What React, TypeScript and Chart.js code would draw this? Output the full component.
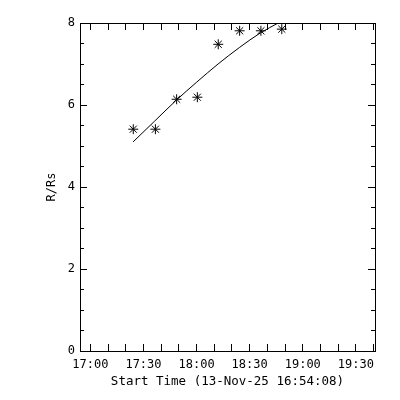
import { useEffect, useRef } from "react";
import { Chart, registerables } from "chart.js";

Chart.register(...registerables);

// ---- data ----
const startTime = "16:54:08";
const xRangeSeconds = 10000;
const xFirstTick = "17:00";
const xTickStepMinutes = 10;
const xMajorLabels = ["17:00", "17:30", "18:00", "18:30", "19:00", "19:30"];
const yMin = 0;
const yMax = 8;
const yMajorStep = 2;
const yMinorStep = 0.5;

// minutes after start time
const obsMinutes = [30.1, 42.6, 54.6, 66.3, 78.1, 90.2, 102.2, 114.0];
const obsRadius = [5.41, 5.41, 6.14, 6.19, 7.48, 7.81, 7.81, 7.85];
const fitMinutes = [30, 42, 54, 66, 78, 90, 102, 112];
const fitRadius = [5.1, 5.6, 6.1, 6.56, 7.0, 7.4, 7.76, 8.0];

const xTitle = "Start Time (13-Nov-25 16:54:08)";
const yTitle = "R/Rs";

// ---- helpers ----
const toSec = (s: string) => {
  const p = s.split(":").map(Number);
  return p[0] * 3600 + p[1] * 60 + (p[2] || 0);
};
const startSec = toSec(startTime);
const xMax = xRangeSeconds / 60;
const firstTickMin = (toSec(xFirstTick) - startSec) / 60;
const xTickValues: number[] = [];
for (let v = firstTickMin; v <= xMax + 1e-9; v += xTickStepMinutes) xTickValues.push(v);
const clockLabel = (v: number) => {
  const t = Math.round(startSec + v * 60);
  const h = Math.floor(t / 3600);
  const m = Math.round((t % 3600) / 60);
  return `${String(h).padStart(2, "0")}:${String(m).padStart(2, "0")}`;
};

const FONT = { family: "DejaVu Sans Mono", size: 12 };

export default function App() {
  const ref = useRef<HTMLCanvasElement | null>(null);
  useEffect(() => {
    if (!ref.current) return;
    Chart.defaults.font.family = FONT.family;
    Chart.defaults.font.size = FONT.size;
    Chart.defaults.color = "#000";

    const setTicks = (scale: any) => {
      scale.ticks = xTickValues.map((v) => ({ value: v }));
    };
    const xCommon = {
      type: "linear" as const,
      min: 0,
      max: xMax,
      afterBuildTicks: setTicks,
      grid: { drawOnChartArea: false, color: "#000", tickLength: -7, lineWidth: 1 },
      border: { display: true, color: "#000", width: 1 },
    };
    const yCommon = {
      type: "linear" as const,
      min: yMin,
      max: yMax,
    };

    const chart = new Chart(ref.current, {
      type: "scatter",
      data: {
        datasets: [
          {
            type: "line",
            data: fitMinutes.map((x, i) => ({ x, y: fitRadius[i] })),
            borderColor: "#000",
            borderWidth: 1,
            pointRadius: 0,
            cubicInterpolationMode: "monotone",
            fill: false,
          } as any,
          {
            type: "scatter",
            data: obsMinutes.map((x, i) => ({ x, y: obsRadius[i] })),
            pointStyle: "star",
            pointRadius: 5,
            borderColor: "#000",
            backgroundColor: "#000",
            borderWidth: 1,
          } as any,
        ],
      },
      options: {
        animation: false,
        responsive: false,
        plugins: { legend: { display: false }, tooltip: { enabled: false } },
        layout: { padding: 0 },
        scales: {
          x: {
            ...xCommon,
            position: "bottom",
            afterFit: (s: any) => { s.height = 49; },
            ticks: {
              autoSkip: false,
              maxRotation: 0,
              padding: 14,
              color: "#000",
              callback: (v: any) => {
                const l = clockLabel(Number(v));
                return xMajorLabels.includes(l) ? l : "";
              },
            },
            title: { display: true, text: xTitle, color: "#000", font: { size: 12.5 }, padding: { top: 0, bottom: 11 } },
          },
          xTop: {
            ...xCommon,
            position: "top",
            afterFit: (s: any) => { s.height = 23; },
            ticks: { autoSkip: false, maxRotation: 0, callback: () => "" },
          },
          y: {
            ...yCommon,
            position: "left",
            weight: 1,
            afterFit: (s: any) => { s.width = 80; },
            ticks: { stepSize: yMajorStep, padding: 12, color: "#000" },
            grid: { drawOnChartArea: false, color: "#000", tickLength: -7 },
            border: { display: true, color: "#000", width: 1 },
            title: { display: true, text: yTitle, color: "#000", padding: { top: 45, bottom: 0 } },
          },
          yMinor: {
            ...yCommon,
            position: "left",
            weight: 0,
            afterFit: (s: any) => { s.width = 0; },
            ticks: { stepSize: yMinorStep, callback: () => "" },
            grid: { drawOnChartArea: false, color: "#000", tickLength: -4 },
            border: { display: false },
          },
          yR: {
            ...yCommon,
            position: "right",
            weight: 1,
            afterFit: (s: any) => { s.width = 25; },
            ticks: { stepSize: yMajorStep, callback: () => "" },
            grid: { drawOnChartArea: false, color: "#000", tickLength: -7 },
            border: { display: true, color: "#000", width: 1 },
          },
          yRMinor: {
            ...yCommon,
            position: "right",
            weight: 0,
            afterFit: (s: any) => { s.width = 0; },
            ticks: { stepSize: yMinorStep, callback: () => "" },
            grid: { drawOnChartArea: false, color: "#000", tickLength: -4 },
            border: { display: false },
          },
        },
      } as any,
    });
    return () => chart.destroy();
  }, []);
  return (
    <div style={{ position: "fixed", left: 0, top: 0, width: 400, height: 400, background: "#fff" }}>
      <canvas ref={ref} width={400} height={400} style={{ width: 400, height: 400, display: "block" }} />
    </div>
  );
}
